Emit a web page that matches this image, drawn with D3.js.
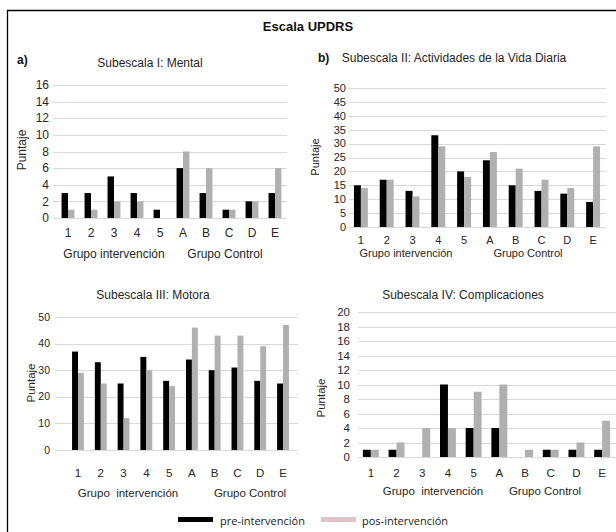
<!DOCTYPE html>
<html>
<head>
<meta charset="utf-8">
<script src="https://cdn.jsdelivr.net/npm/d3@7"></script>
<style>
  body { margin: 0; background: #fff; }
  svg { display: block; }
</style>
</head>
<body>
<div id="chart"></div>
<script>
/* data */
const categories = ['1', '2', '3', '4', '5', 'A', 'B', 'C', 'D', 'E'];
const series = ['pre', 'pos'];

const mentalPre  = [3, 3, 5, 3, 1, 6, 3, 1, 2, 3];
const mentalPos  = [1, 1, 2, 2, 0, 8, 6, 1, 2, 6];
const vidaPre    = [15, 17, 13, 33, 20, 24, 15, 13, 12, 9];
const vidaPos    = [14, 17, 11, 29, 18, 27, 21, 17, 14, 29];
const motoraPre  = [37, 33, 25, 35, 26, 34, 30, 31, 26, 25];
const motoraPos  = [29, 25, 12, 30, 24, 46, 43, 43, 39, 47];
const complPre   = [1, 1, 0, 10, 4, 4, 0, 1, 1, 1];
const complPos   = [1, 2, 4, 4, 9, 10, 1, 1, 2, 5];

const ticksMental = d3.range(0, 17, 2);
const ticksVida   = d3.range(0, 51, 5);
const ticksMotora = d3.range(0, 51, 10);
const ticksCompl  = d3.range(0, 21, 2);

const legendLabels = ['pre-intervención', 'pos-intervención'];

/* layout */
const W = 616, H = 532;
const svg = d3.select('#chart').append('svg')
  .attr('width', W).attr('height', H)
  .attr('font-family', '"Liberation Sans", Arial, sans-serif');

// frame
svg.append('path')
  .attr('d', `M7.5,${H} V10.5 H${W}`)
  .attr('fill', 'none').attr('stroke', '#000').attr('stroke-width', 1.3);

svg.append('text')
  .attr('x', 308).attr('y', 31)
  .attr('text-anchor', 'middle')
  .attr('font-size', 13).attr('font-weight', 'bold').attr('fill', '#111')
  .text('Escala UPDRS');

const panels = [
  { pre: mentalPre, pos: mentalPos, ticks: ticksMental, max: 16,
    title: 'Subescala I: Mental', tx: 150, ty: 67, tag: 'a)', tagX: 17, tagY: 64,
    x0: 56.5, x1: 286.5, g0: 53, g1: 287, yb: 218, yt: 85,
    tickX: 49, ylabX: 26, ylabY: 150, catY: 237, grpY: 258, fs: 12, tfs: 12,
    groups: [['Grupo intervención', 114], ['Grupo Control', 225]], frac: 0.56 },
  { pre: vidaPre, pos: vidaPos, ticks: ticksVida, max: 50,
    title: 'Subescala II: Actividades de la Vida Diaria', tx: 454, ty: 62, tag: 'b)', tagX: 318, tagY: 62,
    x0: 348, x1: 606, g0: 349, g1: 606, yb: 227, yt: 88,
    tickX: 346, ylabX: 319, ylabY: 157, catY: 244, grpY: 257, fs: 11, tfs: 11,
    groups: [['Grupo intervención', 406], ['Grupo Control', 528]], frac: 0.54 },
  { pre: motoraPre, pos: motoraPos, ticks: ticksMotora, max: 50,
    title: 'Subescala III: Motora', tx: 153, ty: 299,
    x0: 66.6, x1: 294.4, g0: 55, g1: 298, yb: 450, yt: 317,
    tickX: 50, ylabX: 35, ylabY: 383, catY: 477, grpY: 497, fs: 11.5, tfs: 10.5,
    groups: [['Grupo  intervención', 128], ['Grupo Control', 250]], frac: 0.52 },
  { pre: complPre, pos: complPos, ticks: ticksCompl, max: 20,
    title: 'Subescala IV: Complicaciones', tx: 463, ty: 299,
    x0: 358, x1: 615, g0: 358, g1: 616, yb: 457, yt: 312,
    tickX: 350, ylabX: 325, ylabY: 398, catY: 477, grpY: 495, fs: 11.5, tfs: 11.5,
    groups: [['Grupo  intervención', 433], ['Grupo Control', 545]], frac: 0.62 }
];

const colors = { pre: '#000000', pos: '#b0b0b0' };
const textCol = '#262626';

panels.forEach(p => {
  const g = svg.append('g');

  const x = d3.scaleBand().domain(categories).range([p.x0, p.x1])
    .paddingInner(1 - p.frac).paddingOuter((1 - p.frac) / 2);
  const xs = d3.scaleBand().domain(series).range([0, x.bandwidth()]);
  const y = d3.scaleLinear().domain([0, p.max]).range([p.yb, p.yt]);

  // gridlines
  g.append('g').selectAll('line').data(p.ticks).join('line')
    .attr('x1', p.g0).attr('x2', p.g1)
    .attr('y1', d => Math.round(y(d)) + 0.5).attr('y2', d => Math.round(y(d)) + 0.5)
    .attr('stroke', '#d9d9d9').attr('stroke-width', 1);

  // y tick labels
  g.append('g').selectAll('text').data(p.ticks).join('text')
    .attr('x', p.tickX).attr('y', d => y(d)).attr('dy', '0.35em')
    .attr('text-anchor', 'end').attr('font-size', p.tfs).attr('fill', textCol)
    .text(d => d);

  // bars
  const rows = categories.map((c, i) => ({ c, pre: p.pre[i], pos: p.pos[i] }));
  g.append('g').selectAll('g').data(rows).join('g')
    .attr('transform', d => `translate(${x(d.c)},0)`)
    .selectAll('rect')
    .data(d => series.map(s => ({ s, v: d[s] })))
    .join('rect')
    .attr('x', d => xs(d.s)).attr('width', xs.bandwidth())
    .attr('y', d => y(d.v)).attr('height', d => y(0) - y(d.v))
    .attr('fill', d => colors[d.s]);

  // category labels
  g.append('g').selectAll('text').data(categories).join('text')
    .attr('x', d => x(d) + x.bandwidth() / 2).attr('y', p.catY)
    .attr('text-anchor', 'middle').attr('font-size', p.fs).attr('fill', textCol)
    .text(d => d);

  // group labels
  g.append('g').selectAll('text').data(p.groups).join('text')
    .attr('x', d => d[1]).attr('y', p.grpY)
    .attr('text-anchor', 'middle').attr('font-size', p.fs).attr('fill', textCol)
    .style('white-space', 'pre')
    .text(d => d[0]);

  // y axis label
  g.append('text')
    .attr('transform', `translate(${p.ylabX},${p.ylabY}) rotate(-90)`)
    .attr('text-anchor', 'middle').attr('font-size', p.fs).attr('fill', textCol)
    .text('Puntaje');

  // title
  g.append('text')
    .attr('x', p.tx).attr('y', p.ty)
    .attr('text-anchor', 'middle').attr('font-size', 12).attr('fill', textCol)
    .text(p.title);

  if (p.tag) {
    g.append('text')
      .attr('x', p.tagX).attr('y', p.tagY)
      .attr('font-size', 12).attr('font-weight', 'bold').attr('fill', '#111')
      .text(p.tag);
  }
});

/* legend */
const legend = svg.append('g').attr('font-family', '"Open Sans", "Noto Sans", sans-serif');
const legendItems = [
  { label: legendLabels[0], color: '#000000', x: 178, tx: 220 },
  { label: legendLabels[1], color: '#dfc4c7', x: 321, tx: 362 }
];
legendItems.forEach(d => {
  legend.append('rect').attr('x', d.x).attr('y', 517).attr('width', 35).attr('height', 5).attr('fill', d.color);
  legend.append('text').attr('x', d.tx).attr('y', 525).attr('font-size', 11).attr('fill', '#222').text(d.label);
});
</script>
</body>
</html>
